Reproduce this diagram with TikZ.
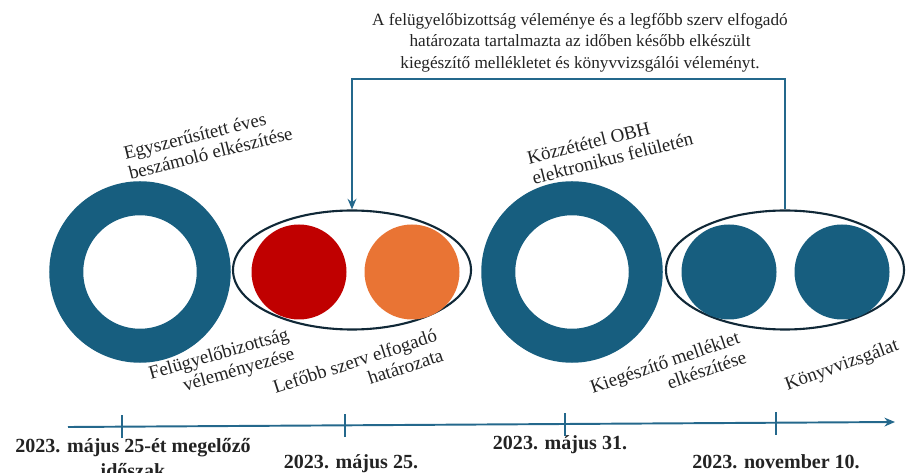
\documentclass[tikz,border=0pt]{standalone}
\usepackage{fontspec}
\setmainfont{Liberation Serif}
\usetikzlibrary{shapes.geometric,arrows.meta}
\definecolor{ringblue}{RGB}{23,94,127}
\definecolor{lineblue}{RGB}{36,104,140}
\definecolor{ovalline}{RGB}{16,40,55}
\definecolor{decred}{RGB}{192,0,0}
\definecolor{decorange}{RGB}{233,116,52}
\definecolor{txt}{RGB}{35,35,35}
\tikzset{
  ring/.style={circle, draw=ringblue, line width=0.68cm, minimum size=2.95cm, inner sep=0pt},
  dot/.style={circle, minimum size=1.9cm, inner sep=0pt},
  oval/.style={ellipse, draw=ovalline, line width=1.2pt, minimum width=4.76cm, minimum height=2.38cm, inner sep=0pt},
  steplabel/.style={text=txt, inner sep=0pt, font=\fontsize{10.8}{11.8}\selectfont},
  uplabel/.style={steplabel, align=left},
  downlabel/.style={steplabel, align=right},
  notelabel/.style={text=txt, align=center, inner sep=0pt, font=\fontsize{9.8}{12.2}\selectfont},
  datelabel/.style={text=txt, align=center, inner sep=0pt, font=\fontsize{11.4}{14}\selectfont\bfseries},
  axis/.style={draw=lineblue, line width=1.1pt},
  link/.style={draw=lineblue, line width=1.1pt}
}
\begin{document}
\begin{tikzpicture}
        \useasboundingbox (0,0) rectangle (18.28,9.44);
        %% rings
        \node[ring] (beszamolo) at (2.80,4.00) {};
        \node[ring] (kozzetetel) at (11.44,4.00) {};
        %% ovals with the dots inside
        \node[oval] (hatarozat) at (7.04,4.04) {};
        \node[oval] (vizsgalat) at (15.70,4.04) {};
        \node[dot, fill=decred] (fbdot) at (5.98,4.00) {};
        \node[dot, fill=decorange] (ldot) at (8.24,4.00) {};
        \node[dot, fill=ringblue] (kdot) at (14.58,4.00) {};
        \node[dot, fill=ringblue] (vdot) at (16.84,4.00) {};
        %% note and bracket
        \node[notelabel, anchor=north] (megjegyzes) at (11.60,9.18)
            {A felügyelőbizottság véleménye és a legfőbb szerv elfogadó\\
             határozata tartalmazta az időben később elkészült\\
             kiegészítő mellékletet és könyvvizsgálói véleményt.};
        \coordinate (bend) at (15.70,7.86);
        \draw[link,-{Stealth[length=6pt,width=5pt]}] (vizsgalat.north) -- (bend) -| (hatarozat.north);
        %% step labels
        \node[uplabel, rotate=14] (l1) at (4.16,6.58) {Egyszerűsített éves\\beszámoló elkészítése};
        \node[uplabel, rotate=14] (l2) at (12.20,6.48) {Közzététel OBH\\elektronikus felületén};
        \node[downlabel, rotate=16] (l3) at (4.44,2.14) {Felügyelőbizottság\\véleményezése};
        \node[downlabel, rotate=18] (l4) at (7.16,2.02) {Lefőbb szerv elfogadó\\határozata};
        \node[downlabel, rotate=19] (l5) at (13.36,2.00) {Kiegészítő melléklet\\elkészítése};
        \node[downlabel, rotate=20] (l6) at (16.84,2.12) {Könyvvizsgálat};
        %% time axis
        \coordinate (tstart) at (1.36,0.90);
        \coordinate (tend) at (17.90,1.00);
        \draw[axis,-{Stealth[length=6pt,width=5pt]}] (tstart) -- (tend);
        \draw[axis] (2.44,0.68) -- (2.44,1.14);
        \draw[axis] (6.90,0.70) -- (6.90,1.16);
        \draw[axis] (11.30,0.73) -- (11.30,1.19);
        \draw[axis] (15.52,0.75) -- (15.52,1.21);
        %% dates
        \node[datelabel, anchor=base] (d1) at (2.66,-0.11) {2023. május 25-ét megelőző\\időszak};
        \node[datelabel, anchor=base] (d2) at (7.02,0.08) {2023. május 25.};
        \node[datelabel, anchor=base] (d3) at (11.20,0.46) {2023. május 31.};
        \node[datelabel, anchor=base] (d4) at (15.52,0.08) {2023. november 10.};
    \end{tikzpicture}
\end{document}
